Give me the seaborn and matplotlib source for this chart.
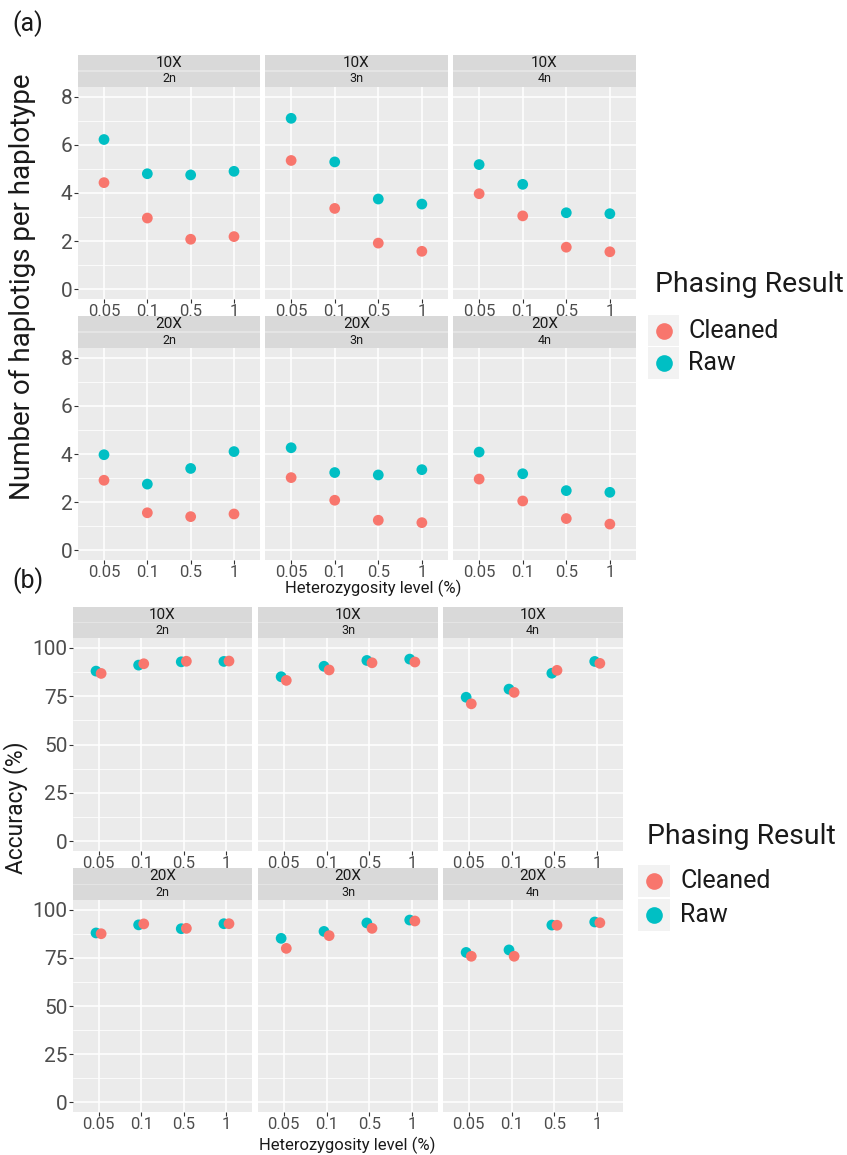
import pandas as pd
import matplotlib
matplotlib.use("Agg")
import matplotlib.pyplot as plt
from matplotlib.patches import Rectangle
from matplotlib.lines import Line2D
import seaborn as sns

# ---- data ----
het_levels = ["0.05", "0.1", "0.5", "1"]
coverages = ["10X", "20X"]
ploidies = ["2n", "3n", "4n"]
results = ["Cleaned", "Raw"]

# (a) number of haplotigs per haplotype
hap_10x_2n_cleaned = [4.43, 2.96, 2.08, 2.19]
hap_10x_2n_raw = [6.22, 4.80, 4.75, 4.90]
hap_10x_3n_cleaned = [5.35, 3.36, 1.92, 1.58]
hap_10x_3n_raw = [7.10, 5.29, 3.75, 3.54]
hap_10x_4n_cleaned = [3.97, 3.05, 1.75, 1.56]
hap_10x_4n_raw = [5.18, 4.36, 3.18, 3.14]
hap_20x_2n_cleaned = [2.91, 1.56, 1.40, 1.51]
hap_20x_2n_raw = [3.97, 2.75, 3.40, 4.10]
hap_20x_3n_cleaned = [3.02, 2.08, 1.25, 1.15]
hap_20x_3n_raw = [4.26, 3.23, 3.13, 3.35]
hap_20x_4n_cleaned = [2.96, 2.05, 1.32, 1.09]
hap_20x_4n_raw = [4.08, 3.18, 2.48, 2.41]

# (b) accuracy (%)
acc_10x_2n_cleaned = [86.7, 91.7, 93.0, 93.1]
acc_10x_2n_raw = [87.9, 91.0, 92.7, 92.9]
acc_10x_3n_cleaned = [83.1, 88.5, 92.2, 92.6]
acc_10x_3n_raw = [85.0, 90.4, 93.4, 94.1]
acc_10x_4n_cleaned = [71.0, 76.9, 88.3, 91.9]
acc_10x_4n_raw = [74.4, 78.6, 86.8, 92.9]
acc_20x_2n_cleaned = [87.5, 92.6, 90.3, 92.7]
acc_20x_2n_raw = [87.9, 92.1, 90.1, 92.7]
acc_20x_3n_cleaned = [79.9, 86.5, 90.3, 94.1]
acc_20x_3n_raw = [85.1, 88.7, 93.1, 94.6]
acc_20x_4n_cleaned = [75.8, 75.8, 91.9, 93.2]
acc_20x_4n_raw = [77.8, 79.1, 92.0, 93.6]

hap_series = {
    ("10X", "2n"): (hap_10x_2n_cleaned, hap_10x_2n_raw),
    ("10X", "3n"): (hap_10x_3n_cleaned, hap_10x_3n_raw),
    ("10X", "4n"): (hap_10x_4n_cleaned, hap_10x_4n_raw),
    ("20X", "2n"): (hap_20x_2n_cleaned, hap_20x_2n_raw),
    ("20X", "3n"): (hap_20x_3n_cleaned, hap_20x_3n_raw),
    ("20X", "4n"): (hap_20x_4n_cleaned, hap_20x_4n_raw),
}
acc_series = {
    ("10X", "2n"): (acc_10x_2n_cleaned, acc_10x_2n_raw),
    ("10X", "3n"): (acc_10x_3n_cleaned, acc_10x_3n_raw),
    ("10X", "4n"): (acc_10x_4n_cleaned, acc_10x_4n_raw),
    ("20X", "2n"): (acc_20x_2n_cleaned, acc_20x_2n_raw),
    ("20X", "3n"): (acc_20x_3n_cleaned, acc_20x_3n_raw),
    ("20X", "4n"): (acc_20x_4n_cleaned, acc_20x_4n_raw),
}


def long_df(series):
    rows = []
    for (cov, ploidy), (cleaned, raw) in series.items():
        # raw first so cleaned is drawn on top
        for res, vals in (("Raw", raw), ("Cleaned", cleaned)):
            for het, v in zip(het_levels, vals):
                rows.append({"coverage": cov, "ploidy": ploidy, "result": res,
                             "het": het, "value": v})
    df = pd.DataFrame(rows)
    df["xcat"] = pd.Categorical(df["het"], categories=het_levels).codes
    return df


df_hap = long_df(hap_series)
df_acc = long_df(acc_series)

# ---- style ----
sns.set_theme(style="darkgrid")
plt.rcParams["font.family"] = ["Roboto", "DejaVu Sans"]

RED = "#F8766D"
CYAN = "#00BFC4"
palette = {"Cleaned": RED, "Raw": CYAN}
PANEL_BG = "#EBEBEB"
STRIP_BG = "#D9D9D9"
TICK_COL = "#4D4D4D"

W, H = 847, 1155
fig = plt.figure(figsize=(W / 100, H / 100), dpi=100)
fig.patch.set_facecolor("white")


def px_axes(x0, y0, x1, y1):
    return fig.add_axes([x0 / W, 1 - y1 / H, (x1 - x0) / W, (y1 - y0) / H])


def px_rect(x0, y0, x1, y1, color):
    fig.add_artist(Rectangle((x0 / W, 1 - y1 / H), (x1 - x0) / W, (y1 - y0) / H,
                             transform=fig.transFigure, facecolor=color,
                             edgecolor="none"))


def px_text(x, y, s, **kw):
    fig.text(x / W, 1 - y / H, s, **kw)


def draw_panel(df, cols, rows, strips, ylim, yticks, yminor, dodge, ysize):
    for r, cov in enumerate(coverages):
        for c, ploidy in enumerate(ploidies):
            x0, x1 = cols[c]
            y0, y1 = rows[r]
            s0, s1 = strips[r]
            ax = px_axes(x0, y0, x1, y1)
            sub = df[(df["coverage"] == cov) & (df["ploidy"] == ploidy)].copy()
            sub["xpos"] = sub["xcat"] + sub["result"].map({"Raw": -dodge, "Cleaned": dodge})
            sns.scatterplot(data=sub, x="xpos", y="value", hue="result",
                            palette=palette, s=60, edgecolor="none",
                            legend=False, ax=ax, zorder=3)
            ax.set_facecolor(PANEL_BG)
            ax.set_xlim(-0.6, 3.6)
            ax.set_ylim(*ylim)
            ax.set_xticks(range(len(het_levels)))
            ax.set_xticklabels(het_levels)
            ax.set_yticks(yticks)
            ax.set_yticklabels([str(t) for t in yticks])
            ax.set_yticks(yminor, minor=True)
            ax.grid(which="major", color="white", linewidth=1.1)
            ax.grid(which="minor", axis="y", color="white", linewidth=0.55)
            ax.set_axisbelow(True)
            for sp in ax.spines.values():
                sp.set_visible(False)
            ax.set_xlabel("")
            ax.set_ylabel("")
            ax.tick_params(axis="x", bottom=True, length=3, width=0.8, color="#333333",
                           pad=0.5, labelsize=12, labelcolor=TICK_COL)
            ax.tick_params(axis="y", left=(c == 0), labelleft=(c == 0), length=3,
                           width=0.8, color="#333333", pad=1,
                           labelsize=ysize, labelcolor=TICK_COL)
            ax.tick_params(which="minor", length=0)
            # facet strip with two label levels
            px_rect(x0, s0, x1, s1, STRIP_BG)
            mid = (s0 + s1) / 2
            px_rect(x0, mid - 0.5, x1, mid + 0.5, "#E4E4E4")
            xc = (x0 + x1) / 2
            px_text(xc, (s0 + mid) / 2, cov, ha="center", va="center",
                    fontsize=11, color="#1A1A1A")
            px_text(xc, (mid + s1) / 2, ploidy, ha="center", va="center",
                    fontsize=9, color="#1A1A1A")


def draw_legend(title_xy, box_x, box_y, box, text_x):
    px_text(title_xy[0], title_xy[1], "Phasing Result", ha="left", va="center",
            fontsize=20.5, color="#1A1A1A")
    for i, res in enumerate(results):
        top = box_y + i * (box + 1.5)
        px_rect(box_x, top, box_x + box, top + box, "#F2F2F2")
        cx, cy = box_x + box / 2, top + box / 2
        fig.add_artist(Line2D([cx / W], [1 - cy / H], transform=fig.transFigure,
                              marker="o", linestyle="", markersize=12,
                              markerfacecolor=palette[res], markeredgecolor="none"))
        px_text(text_x, cy, res, ha="left", va="center", fontsize=18,
                color="#1A1A1A")


# ---- (a) haplotigs per haplotype ----
draw_panel(df_hap,
           cols=[(78, 260), (265, 448), (453, 636)],
           rows=[(87, 299), (348, 560)],
           strips=[(55, 87), (316, 348)],
           ylim=(-0.4, 8.4), yticks=[0, 2, 4, 6, 8], yminor=[1, 3, 5, 7],
           dodge=0.0, ysize=15)
px_text(12, 24, "(a)", ha="left", va="center", fontsize=18, color="#1A1A1A")
px_text(22, 287, "Number of haplotigs per haplotype", ha="center", va="center",
        rotation=90, fontsize=20, color="#1A1A1A")
px_text(373, 588, "Heterozygosity level (%)", ha="center", va="center",
        fontsize=12, color="#1A1A1A")
draw_legend((655, 285), 648, 315, 31, 688)

# ---- (b) accuracy ----
draw_panel(df_acc,
           cols=[(73, 252), (258, 438), (443, 623)],
           rows=[(638, 851), (900, 1112)],
           strips=[(607, 638), (868, 900)],
           ylim=(-5, 105), yticks=[0, 25, 50, 75, 100],
           yminor=[12.5, 37.5, 62.5, 87.5], dodge=0.06, ysize=15)
px_text(12, 581, "(b)", ha="left", va="center", fontsize=18, color="#1A1A1A")
px_text(16, 808, "Accuracy (%)", ha="center", va="center", rotation=90,
        fontsize=16.5, color="#1A1A1A")
px_text(347, 1145, "Heterozygosity level (%)", ha="center", va="center",
        fontsize=12, color="#1A1A1A")
draw_legend((647, 837), 638, 865, 32, 680)

fig.savefig("out.png", dpi=100)
